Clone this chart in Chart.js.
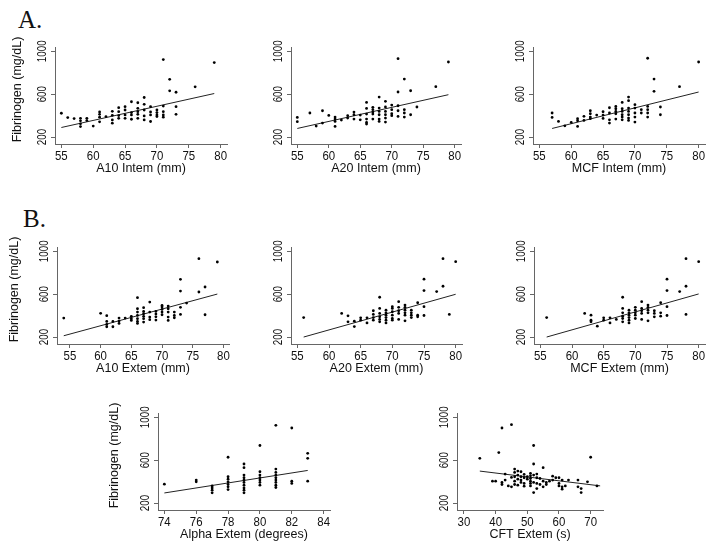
<!DOCTYPE html>
<html>
<head>
<meta charset="utf-8">
<script src="https://cdn.jsdelivr.net/npm/chart.js@4.4.1/dist/chart.umd.min.js"></script>
<style>
    body { margin: 0; background: #fff; width: 715px; height: 544px; position: relative; overflow: hidden; }
    canvas { position: absolute; }
    .tag { position: absolute; font-family: "Liberation Serif", "Times New Roman", serif; font-size: 25px; line-height: 24px; color: #111; }
</style>
</head>
<body>
<div class="tag" style="left:18px;top:8px">A.</div>
<div class="tag" style="left:23px;top:207px">B.</div>
<script>
// tick values
const yTicks = [200, 600, 1000]
const rotemTicks = [55, 60, 65, 70, 75, 80]
const alphaTicks = [74, 76, 78, 80, 82, 84]
const cftTicks = [30, 40, 50, 60, 70]

// A10 Intem
const a10InX = [55,56,57,58,58,58,58,59,59,60,61,61,61,61,62,63,63,63,63,64,64,64,64,65,65,65,65,66,66,66,66,67,67,67,67,67,68,68,68,68,68,69,69,69,69,70,70,70,70,71,71,71,71,71,72,72,73,73,73,76,79]
const a10InY = [422,382,372,375,351,323,298,375,354,302,434,412,385,342,391,440,403,360,329,474,437,400,375,483,452,406,375,529,428,406,366,520,468,437,412,375,569,505,452,397,360,483,434,406,345,452,428,406,391,923,489,437,406,385,738,631,618,483,412,668,895]
const a10InFitX = [55, 79]
const a10InFitY = [289, 606]

// A20 Intem
const a20InX = [55,55,57,58,59,59,60,61,61,61,61,62,63,63,64,64,64,65,65,66,66,66,66,66,66,67,67,67,67,67,68,68,68,68,68,68,69,69,69,69,69,69,70,70,70,70,71,71,71,71,71,72,72,72,72,73,73,74,77,79]
const a20InY = [383,343,424,302,445,330,402,386,368,346,299,358,399,377,433,408,368,405,361,523,467,414,368,336,321,477,455,433,414,368,573,470,439,408,368,346,533,480,439,408,377,340,498,455,417,399,931,620,492,445,392,741,455,424,386,632,408,480,670,900]
const a20InFitX = [55, 79]
const a20InFitY = [280, 595]

// MCF Intem
const mcfInX = [57,57,58,59,60,61,61,61,62,62,63,63,63,63,64,65,65,65,66,66,66,66,67,67,67,67,67,68,68,68,68,68,68,69,69,69,69,69,69,69,70,70,70,70,70,71,71,72,72,72,72,72,73,73,74,74,77,80]
const mcfInY = [424,383,346,305,336,371,352,299,393,355,445,417,386,371,405,436,405,374,473,424,361,330,486,464,439,417,368,523,464,439,408,386,361,573,539,470,439,408,377,355,502,470,424,386,340,455,424,935,486,455,424,386,741,626,480,408,670,900]
const mcfInFitX = [57, 80]
const mcfInFitY = [280, 620]

// A10 Extem
const a10ExX = [54,60,61,61,61,61,62,62,63,63,63,64,65,65,65,66,66,66,66,66,66,66,67,67,67,67,67,67,68,68,68,68,69,69,69,69,70,70,70,70,70,71,71,71,71,71,72,72,72,73,73,73,73,74,76,76,77,77,79]
const a10ExY = [377,421,399,346,318,296,346,296,377,349,327,377,393,371,355,567,464,433,402,371,346,327,474,439,417,393,371,340,526,433,386,362,439,414,389,358,495,480,458,433,408,489,464,433,386,355,433,402,380,738,629,477,411,517,620,931,667,408,900]
const a10ExFitX = [54, 79]
const a10ExFitY = [212, 601]

// A20 Extem
const a20ExX = [56,62,63,63,64,64,65,65,66,66,67,67,67,67,68,68,68,68,68,68,69,69,69,69,69,69,70,70,70,70,70,70,71,71,71,71,71,72,72,72,72,72,72,73,73,73,73,74,74,74,75,75,75,75,77,78,78,79,80]
const a20ExY = [382,420,398,342,348,298,379,357,379,332,445,411,382,357,571,467,420,389,364,342,451,426,404,382,357,332,483,467,436,404,373,357,530,477,445,420,364,498,477,451,426,404,351,451,426,404,382,520,404,389,740,633,483,401,624,931,674,411,903]
const a20ExFitX = [56, 80]
const a20ExFitY = [200, 599]

// MCF Extem
const mcfExX = [56,62,63,63,63,64,65,65,66,66,67,68,68,68,68,68,68,69,69,69,69,69,69,70,70,70,70,70,71,71,71,71,71,72,72,72,72,72,73,73,73,74,74,74,75,75,75,75,77,78,78,78,80]
const mcfExY = [382,420,404,357,342,301,379,357,379,332,364,571,467,426,395,373,342,451,426,404,382,357,332,477,451,426,404,373,530,467,445,420,364,498,477,451,426,351,445,420,389,520,426,395,740,633,483,401,624,931,674,411,903]
const mcfExFitX = [56, 80]
const mcfExFitY = [200, 602]

// Alpha Extem
const alphaX = [74,76,76,77,77,77,77,78,78,78,78,78,78,78,79,79,79,79,79,79,79,79,79,79,80,80,80,80,80,80,80,81,81,81,81,81,81,81,81,81,82,82,82,83,83,83]
const alphaY = [376,414,398,360,341,320,295,627,445,423,398,373,351,326,564,530,461,436,414,392,367,341,320,295,737,492,461,436,414,392,367,925,517,486,461,436,414,392,367,345,900,404,383,664,617,404]
const alphaFitX = [74, 83]
const alphaFitY = [294, 504]

// CFT Extem
const cftX = [35,39,40,41,42,42,42,43,43,44,45,45,45,46,46,46,46,46,47,47,47,47,48,48,48,48,49,49,49,49,50,50,51,51,51,51,51,51,52,52,52,52,52,53,53,53,53,54,54,55,55,55,56,56,57,58,58,59,60,60,60,61,61,61,62,63,66,66,67,67,69,70,72]
const cftY = [617,404,404,671,900,392,373,470,414,360,931,439,351,517,486,445,404,373,498,461,423,367,492,445,414,392,467,436,383,357,445,423,476,454,429,404,383,360,737,564,461,392,298,470,436,383,335,429,373,530,404,351,392,373,404,451,414,436,436,383,360,414,351,329,360,414,414,351,335,298,398,627,360]
const cftFitX = [35, 73]
const cftFitY = [498, 360]

const panels = [
    { xs: a10InX, ys: a10InY, fx: a10InFitX, fy: a10InFitY, ticks: rotemTicks, xMin: 54, xMax: 81, left: 55, top: 47, w: 172, title: 'A10 Intem (mm)', yTitle: 37 },
    { xs: a20InX, ys: a20InY, fx: a20InFitX, fy: a20InFitY, ticks: rotemTicks, xMin: 54, xMax: 81, left: 291, top: 47, w: 170, title: 'A20 Intem (mm)' },
    { xs: mcfInX, ys: mcfInY, fx: mcfInFitX, fy: mcfInFitY, ticks: rotemTicks, xMin: 54, xMax: 81, left: 533, top: 47, w: 172, title: 'MCF Intem (mm)' },
    { xs: a10ExX, ys: a10ExY, fx: a10ExFitX, fy: a10ExFitY, ticks: rotemTicks, xMin: 52.9, xMax: 80.9, left: 57, top: 247, w: 172, title: 'A10 Extem (mm)', yTitle: 42 },
    { xs: a20ExX, ys: a20ExY, fx: a20ExFitX, fy: a20ExFitY, ticks: rotemTicks, xMin: 54, xMax: 81, left: 291, top: 247, w: 171, title: 'A20 Extem (mm)' },
    { xs: mcfExX, ys: mcfExY, fx: mcfExFitX, fy: mcfExFitY, ticks: rotemTicks, xMin: 54, xMax: 81, left: 534, top: 247, w: 171, title: 'MCF Extem (mm)' },
    { xs: alphaX, ys: alphaY, fx: alphaFitX, fy: alphaFitY, ticks: alphaTicks, xMin: 73.6, xMax: 84.4, left: 158, top: 413, w: 172, title: 'Alpha Extem (degrees)', yTitle: 43 },
    { xs: cftX, ys: cftY, fx: cftFitX, fy: cftFitY, ticks: cftTicks, xMin: 27.8, xMax: 73.9, left: 457, top: 413, w: 146, title: 'CFT Extem (s)' }
]

const PLOT_H = 97

// tick labels and axis titles, placed from the scales
const axisText = {
    id: 'axisText',
    afterDraw(chart, args, opts) {
        const { ctx, chartArea: a, scales } = chart
        ctx.save()
        ctx.fillStyle = '#111'
        ctx.textAlign = 'center'
        ctx.textBaseline = 'middle'
        ctx.font = '13px "Liberation Sans", Arial, sans-serif'
        scales.x.ticks.forEach(t => {
            ctx.save()
            ctx.translate(scales.x.getPixelForValue(t.value), a.bottom + 12)
            ctx.scale(0.88, 1)
            ctx.fillText(String(t.value), 0, 0)
            ctx.restore()
        })
        ctx.font = '12px "Liberation Sans", Arial, sans-serif'
        scales.y.ticks.forEach(t => {
            ctx.save()
            ctx.translate(a.left - 12, scales.y.getPixelForValue(t.value))
            ctx.rotate(-Math.PI / 2)
            ctx.scale(0.82, 1)
            ctx.fillText(String(t.value), 0, 0)
            ctx.restore()
        })
        ctx.font = '12.5px "Liberation Sans", Arial, sans-serif'
        ctx.fillText(opts.title, (a.left + a.right) / 2, a.bottom + 25)
        if (opts.yTitle) {
            ctx.save()
            ctx.translate(a.left - opts.yTitle, (a.top + a.bottom) / 2 - 6)
            ctx.rotate(-Math.PI / 2)
            ctx.fillText('Fibrinogen (mg/dL)', 0, 0)
            ctx.restore()
        }
        ctx.restore()
    }
}

function makePanel(p) {
    const cv = document.createElement('canvas')
    cv.width = p.w + 70
    cv.height = PLOT_H + 55
    cv.style.left = (p.left - 60) + 'px'
    cv.style.top = (p.top - 10) + 'px'
    document.body.appendChild(cv)

    const pts = p.xs.map((v, i) => ({ x: v, y: p.ys[i] }))
    const fit = p.fx.map((v, i) => ({ x: v, y: p.fy[i] }))
    const axisLook = {
        ticks: { display: false },
        grid: { display: true, drawOnChartArea: false, drawTicks: true, tickLength: 4, color: '#666', lineWidth: 1 },
        border: { display: true, color: '#666', width: 1 }
    }

    new Chart(cv, {
        type: 'scatter',
        data: {
            datasets: [{
                data: pts,
                pointRadius: 1.4,
                pointBackgroundColor: '#000',
                pointBorderWidth: 0
            }, {
                data: fit,
                showLine: true,
                pointRadius: 0,
                borderColor: '#222',
                borderWidth: 1
            }]
        },
        options: {
            responsive: false,
            animation: false,
            devicePixelRatio: 1,
            layout: { padding: { left: 0, top: 10, right: 10, bottom: 0 } },
            plugins: {
                legend: { display: false },
                tooltip: { enabled: false },
                axisText: { title: p.title, yTitle: p.yTitle }
            },
            scales: {
                x: {
                    type: 'linear', min: p.xMin, max: p.xMax,
                    afterBuildTicks: s => { s.ticks = p.ticks.map(v => ({ value: v })) },
                    afterFit: s => { s.height = 45 },
                    ...axisLook
                },
                y: {
                    type: 'linear', min: 135, max: 1040,
                    afterBuildTicks: s => { s.ticks = yTicks.map(v => ({ value: v })) },
                    afterFit: s => { s.width = 60 },
                    ...axisLook
                }
            }
        },
        plugins: [axisText]
    })
}

panels.forEach(makePanel)
</script>
</body>
</html>
